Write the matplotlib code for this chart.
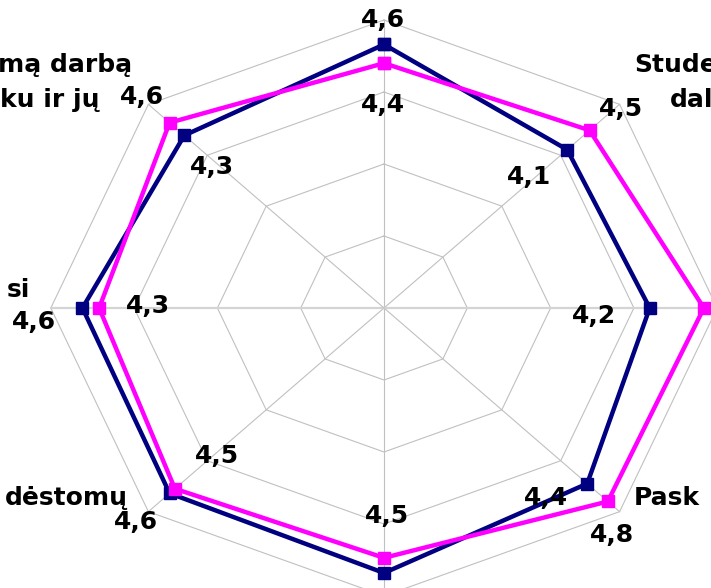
import numpy as np
import matplotlib
matplotlib.use("Agg")
import matplotlib.pyplot as plt

# values, clockwise from the top spoke
blue = [4.66, 4.11, 4.19, 4.45, 4.68, 4.64, 4.62, 4.39]
pink = [4.40, 4.49, 4.84, 4.80, 4.47, 4.55, 4.42, 4.64]
blue_labels = ["4,6", "4,1", "4,2", "4,4", "", "4,6", "4,6", "4,3"]
pink_labels = ["4,4", "4,5", "", "4,8", "4,5", "4,5", "4,3", "4,6"]
rings = [2, 3, 4, 5]
vmin = 1

# visible pieces of the category names (the chart is cropped)
cat_left = [("mą darbą", 132, 72), ("ku ir jų", 100, 107), ("si", 30, 297), ("dėstomų", 128, 505)]
cat_right = [("Stude", 634, 72), ("dal", 670, 107), ("Pask", 634, 505)]

W, H = 711, 588
plt.rcParams["font.family"] = "DejaVu Sans"
fig = plt.figure(figsize=(W / 100, H / 100), dpi=100)
ax = fig.add_axes([0, 0, 1, 1])
ax.axis("off")

n = len(blue)
ang = np.arange(n) * 2 * np.pi / n


def to_xy(vals):
    r = np.asarray(vals, dtype=float) - vmin
    return r * np.sin(ang), r * np.cos(ang)


# octagon grid + spokes
for lev in rings:
    gx, gy = to_xy([lev] * n)
    ax.plot(np.append(gx, gx[0]), np.append(gy, gy[0]), color="#c0c0c0", lw=0.8, zorder=1)
sx, sy = to_xy([rings[-1]] * n)
for i in range(n):
    if i in (2, 6):
        ax.plot([0, sx[i]], [0, sy[i]], color="#d4d4d4", lw=1.6, zorder=1)
    else:
        ax.plot([0, sx[i]], [0, sy[i]], color="#c0c0c0", lw=0.8, zorder=1)

# series
bx, by = to_xy(blue)
px, py = to_xy(pink)
ax.plot(np.append(bx, bx[0]), np.append(by, by[0]), color="#000080", lw=3.2,
        marker="s", ms=9, zorder=3)
ax.plot(np.append(px, px[0]), np.append(py, py[0]), color="#ff00ff", lw=3.2,
        marker="s", ms=9, zorder=4)

# data labels (pixel offsets from the marker)
blue_off = [(-1, 24), (-38, -27), (-56, -8), (-41, -14), (0, 0), (-34, -29), (-48, -14), (28, -32)]
pink_off = [(-1, -42), (31, 21), (0, 0), (4, -34), (3, 42), (42, 33), (49, 2), (-28, 26)]
for xs, ys, labs, offs in [(bx, by, blue_labels, blue_off), (px, py, pink_labels, pink_off)]:
    for i in range(n):
        if labs[i]:
            ax.annotate(labs[i], (xs[i], ys[i]), xytext=offs[i], textcoords="offset pixels",
                        ha="center", va="center", fontsize=18, fontweight="bold", zorder=5)

# scale: 83.3 px per unit across, 72 px per unit up/down, centre at (384, 308)
cx, cy, kx, ky = 384, 308, 83.3, 72
ax.set_xlim(-cx / kx, (W - cx) / kx)
ax.set_ylim(-(H - cy) / ky, cy / ky)

for txt, x, y in cat_left:
    fig.text(x / W, 1 - y / H, txt, ha="right", va="baseline", fontsize=18, fontweight="bold")
for txt, x, y in cat_right:
    fig.text(x / W, 1 - y / H, txt, ha="left", va="baseline", fontsize=18, fontweight="bold")

fig.savefig("out.png", dpi=100)
